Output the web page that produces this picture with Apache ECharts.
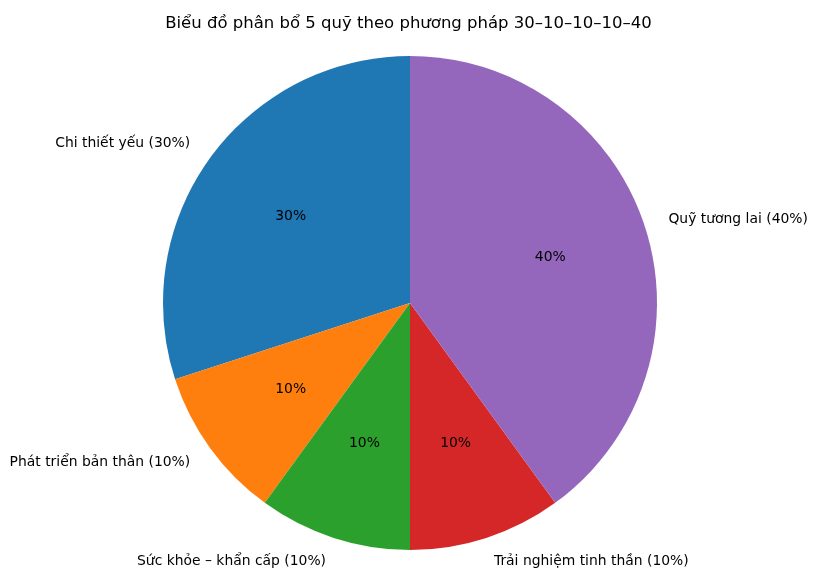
<!DOCTYPE html>
<html>
<head>
<meta charset="utf-8">
<script src="https://cdn.jsdelivr.net/npm/echarts@6/dist/echarts.min.js"></script>
<style>
html,body{margin:0;padding:0;background:#fff;}
#chart{width:817px;height:583px;}
</style>
</head>
<body>
<div id="chart"></div>
<script>
const titleText = 'Biểu đồ phân bổ 5 quỹ theo phương pháp 30–10–10–10–40';
const categories = ['Chi thiết yếu (30%)', 'Phát triển bản thân (10%)', 'Sức khỏe – khẩn cấp (10%)', 'Trải nghiệm tinh thần (10%)', 'Quỹ tương lai (40%)'];
const values = [30, 10, 10, 10, 40];
const colors = ['#1f77b4', '#ff7f0e', '#2ca02c', '#d62728', '#9467bd'];

const total = values.reduce((a, b) => a + b, 0);
const FONT = 'DejaVu Sans';
const R = 247;
const C = [410, 303];

const chart = echarts.init(document.getElementById('chart'), null, {renderer: 'canvas'});
chart.setOption({
  animation: false,
  backgroundColor: '#ffffff',
  title: {
    text: titleText,
    left: 'center',
    top: 10,
    textStyle: {fontFamily: FONT, fontSize: 16.5, fontWeight: 'normal', color: '#000'}
  },
  series: [
    {
      type: 'pie',
      center: C,
      radius: [0, R],
      startAngle: 90,
      clockwise: false,
      avoidLabelOverlap: false,
      silent: true,
      itemStyle: {borderWidth: 0},
      label: {
        show: true,
        position: 'outside',
        distanceToLabelLine: 0,
        fontFamily: FONT,
        fontSize: 13.9,
        color: '#000',
        formatter: p => p.name
      },
      labelLine: {show: false, length: R * 0.1, length2: 0},
      data: categories.map((c, i) => ({name: c, value: values[i], itemStyle: {color: colors[i]}}))
    },
    {
      type: 'pie',
      center: C,
      radius: [0, R * 1.17],
      startAngle: 90,
      clockwise: false,
      avoidLabelOverlap: false,
      silent: true,
      z: 5,
      itemStyle: {color: 'transparent', borderWidth: 0},
      label: {
        show: true,
        position: 'inside',
        fontFamily: FONT,
        fontSize: 13.9,
        color: '#000',
        formatter: p => (p.value / total * 100).toFixed(0) + '%'
      },
      labelLine: {show: false},
      data: categories.map((c, i) => ({name: c, value: values[i]}))
    }
  ]
});
</script>
</body>
</html>
